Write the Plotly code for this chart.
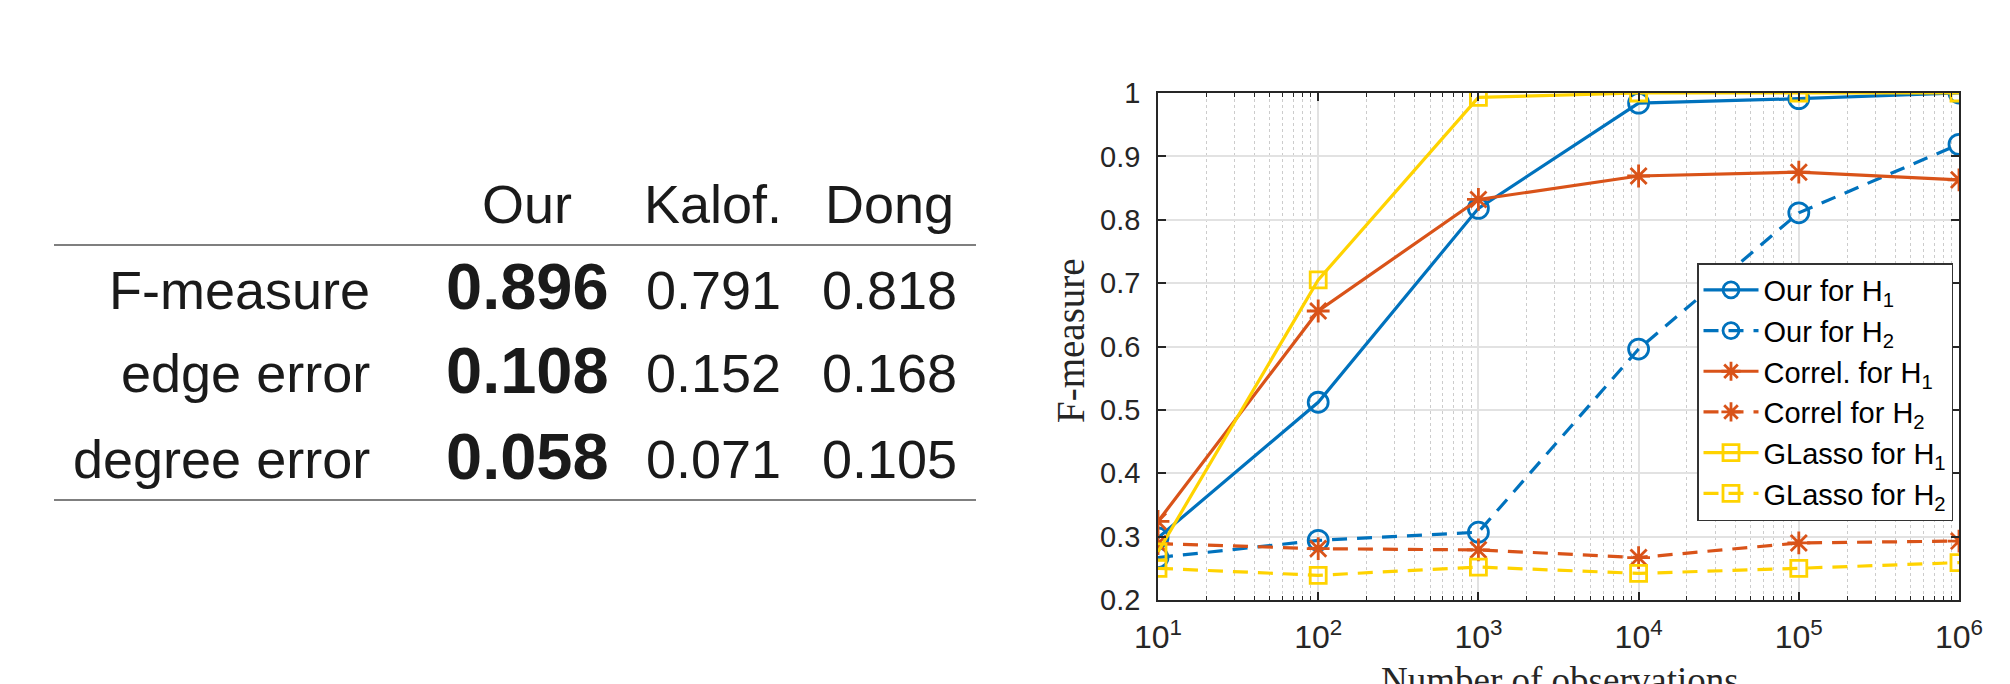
import plotly.graph_objects as go

# ---------------- data ----------------
obs = [10, 100, 1000, 10000, 100000, 1000000]
x_tickvals = [10, 100, 1000, 10000, 100000, 1000000]
x_ticktext = ["10<sup>1</sup>", "10<sup>2</sup>", "10<sup>3</sup>",
              "10<sup>4</sup>", "10<sup>5</sup>", "10<sup>6</sup>"]

our_h1 = [0.298, 0.512, 0.818, 0.984, 0.991, 1.000]
our_h2 = [0.267, 0.294, 0.307, 0.596, 0.811, 0.919]
correl_h1 = [0.324, 0.656, 0.832, 0.869, 0.875, 0.863]
correl_h2 = [0.289, 0.281, 0.279, 0.267, 0.290, 0.293]
glasso_h1 = [0.276, 0.705, 0.993, 1.000, 1.000, 1.000]
glasso_h2 = [0.250, 0.239, 0.252, 0.242, 0.250, 0.259]

series_names = ["Our for H<sub>1</sub>", "Our for H<sub>2</sub>",
                "Correl. for H<sub>1</sub>", "Correl for H<sub>2</sub>",
                "GLasso for H<sub>1</sub>", "GLasso for H<sub>2</sub>"]

table_cols = ["Our", "Kalof.", "Dong"]
table_rows = ["F-measure", "edge error", "degree error"]
table_vals = [["0.896", "0.791", "0.818"],
              ["0.108", "0.152", "0.168"],
              ["0.058", "0.071", "0.105"]]

# ---------------- layout helpers ----------------
W, H = 2010, 684
def px(x):
    return x / W
def py(y):
    return 1 - y / H

BLUE = "#0072BD"
ORANGE = "#D95319"
YELLOW = "#FFD300"

ax_l, ax_r, ax_t, ax_b = 1158, 1959, 93, 600

fig = go.Figure()

styles = [
    (our_h1, BLUE, "solid", "circle-open", 20),
    (our_h2, BLUE, "dash", "circle-open", 20),
    (correl_h1, ORANGE, "solid", "asterisk-open", 19),
    (correl_h2, ORANGE, "dash", "asterisk-open", 19),
    (glasso_h1, YELLOW, "solid", "square-open", 16),
    (glasso_h2, YELLOW, "dash", "square-open", 16),
]
for name, (vals, col, dash, sym, size) in zip(series_names, styles):
    fig.add_trace(go.Scatter(
        x=obs, y=vals, name=name, mode="lines+markers",
        line=dict(color=col, width=3.2, dash=dash if dash == "solid" else "15px,10px"),
        marker=dict(symbol=sym, size=size, color=col,
                    line=dict(color=col, width=2.8)),
    ))

ytick_font = dict(family="Liberation Sans, Arial, sans-serif", size=29, color="#262626")
xtick_font = dict(family="Liberation Sans, Arial, sans-serif", size=32, color="#262626")

fig.update_layout(
    width=W, height=H, autosize=False,
    margin=dict(l=0, r=0, t=0, b=0, pad=0),
    paper_bgcolor="white", plot_bgcolor="white",
    showlegend=True,
    legend=dict(
        x=px(1697), y=py(263), xanchor="left", yanchor="top",
        bgcolor="white", bordercolor="#333333", borderwidth=1.5,
        font=dict(family="Liberation Sans, Arial, sans-serif", size=29, color="black"),
        tracegroupgap=0, itemwidth=55,
    ),
    xaxis=dict(
        type="log", range=[1, 6], domain=[px(ax_l), px(ax_r)], automargin=False,
        tickvals=x_tickvals, ticktext=x_ticktext,
        tickfont=xtick_font, ticklabelstandoff=8,
        showline=True, linecolor="#262626", linewidth=1.5, mirror="allticks",
        ticks="inside", ticklen=8, tickwidth=1.5, tickcolor="#262626",
        showgrid=True, gridcolor="#e2e2e2", gridwidth=1.5,
        zeroline=False,
        minor=dict(dtick="D1", ticks="inside", ticklen=4, tickwidth=1.2,
                   tickcolor="#262626", showgrid=True, gridcolor="#cccccc",
                   griddash="dot", gridwidth=1),
    ),
    yaxis=dict(
        range=[0.2, 1.0], domain=[py(ax_b), py(ax_t)], automargin=False,
        dtick=0.1, tick0=0.2,
        tickfont=ytick_font, ticklabelstandoff=10,
        showline=True, linecolor="#262626", linewidth=1.5, mirror="allticks",
        ticks="inside", ticklen=8, tickwidth=1.5, tickcolor="#262626",
        showgrid=True, gridcolor="#e2e2e2", gridwidth=1.5,
        zeroline=False,
    ),
)

annotations = []
# axis titles
annotations.append(dict(
    text="F-measure", x=px(1070), y=py(341), xref="paper", yref="paper",
    xanchor="center", yanchor="middle", textangle=-90, showarrow=False,
    font=dict(family="Liberation Serif, Times New Roman, serif", size=39, color="#262626"),
))
annotations.append(dict(
    text="Number of observations", x=px(1560), y=py(680), xref="paper", yref="paper",
    xanchor="center", yanchor="middle", showarrow=False,
    font=dict(family="Liberation Serif, Times New Roman, serif", size=37, color="#262626"),
))

# table
sans = "Liberation Sans, Arial, Helvetica, sans-serif"
col_x = [527, 713, 889]
label_right = 372
header_mid = 204
row_mid = [290, 373, 459]
reg_size = 54
bold_size = 65

for cx, ct in zip(col_x, table_cols):
    annotations.append(dict(
        text=ct, x=px(cx), y=py(header_mid), xref="paper", yref="paper",
        xanchor="center", yanchor="middle", showarrow=False,
        font=dict(family=sans, size=reg_size, color="#1a1a1a"),
    ))
for rm, rl, rv in zip(row_mid, table_rows, table_vals):
    annotations.append(dict(
        text=rl, x=px(label_right), y=py(rm), xref="paper", yref="paper",
        xanchor="right", yanchor="middle", showarrow=False,
        font=dict(family=sans, size=reg_size, color="#1a1a1a"),
    ))
    for i, (cx, v) in enumerate(zip(col_x, rv)):
        if i == 0:
            annotations.append(dict(
                text="<b>" + v + "</b>", x=px(cx), y=py(rm - 3), xref="paper", yref="paper",
                xanchor="center", yanchor="middle", showarrow=False,
                font=dict(family=sans, size=bold_size, color="#1a1a1a"),
            ))
        else:
            annotations.append(dict(
                text=v, x=px(cx), y=py(rm), xref="paper", yref="paper",
                xanchor="center", yanchor="middle", showarrow=False,
                font=dict(family=sans, size=reg_size, color="#1a1a1a"),
            ))

fig.update_layout(annotations=annotations)

# table rules
for yy in [245, 500]:
    fig.add_shape(type="line", xref="paper", yref="paper",
                  x0=px(54), x1=px(976), y0=py(yy), y1=py(yy),
                  line=dict(color="#7f7f7f", width=2))

fig.write_html("out.html", config={"displayModeBar": False},
               post_script="document.body.style.margin='0';document.body.style.overflow='hidden';")
